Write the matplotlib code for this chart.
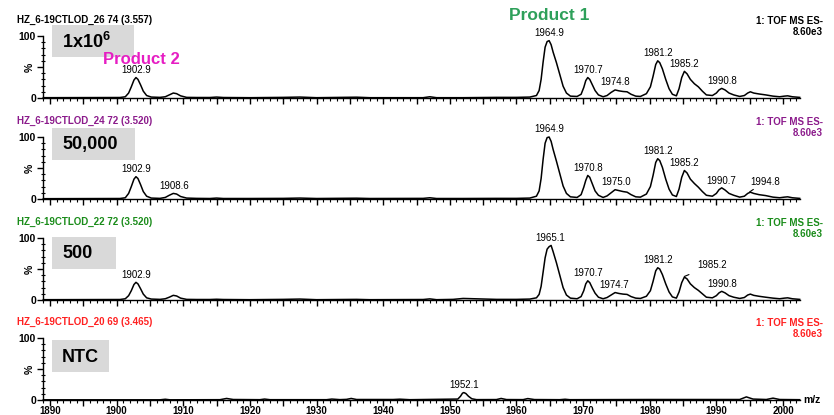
import numpy as np
import matplotlib
matplotlib.use("Agg")
import matplotlib.pyplot as plt
from matplotlib.patches import Rectangle
from matplotlib.ticker import MultipleLocator, FuncFormatter

plt.rcParams['font.family'] = ['Liberation Sans', 'DejaVu Sans']
plt.rcParams['mathtext.fontset'] = 'custom'
plt.rcParams['mathtext.bf'] = 'Liberation Sans:bold'
plt.rcParams['mathtext.rm'] = 'Liberation Sans'

# ---- spectra (m/z, % of 8.60e3) ----
# the three sample runs share one m/z grid
mz_grid = [1889, 1900.5, 1901.3, 1901.8, 1902.2, 1902.6, 1902.9, 1903.2, 1903.6, 1904.0, 1904.5, 1905.2,
           1906.5, 1907.3, 1907.9, 1908.5, 1909.0, 1909.6, 1910.5,
           1912, 1914, 1915, 1916, 1920, 1925, 1927.5, 1930, 1936, 1938, 1946, 1947, 1948, 1950.5,
           1952, 1957, 1960, 1962,
           1963, 1963.4, 1963.7, 1964.0, 1964.3, 1964.6, 1964.9, 1965.2, 1965.5, 1966.0, 1966.5,
           1967.0, 1967.5, 1968.1, 1969.1,
           1969.7, 1970.1, 1970.4, 1970.7, 1971.0, 1971.4, 1971.8, 1972.3, 1973.0, 1973.6, 1974.2,
           1974.8, 1975.4, 1976.0, 1976.6, 1977.2, 1977.9, 1978.6,
           1979.5, 1980.1, 1980.5, 1980.9, 1981.2, 1981.5, 1981.9, 1982.4, 1982.9, 1983.4, 1984.0,
           1984.4, 1984.8, 1985.2, 1985.6, 1986.1, 1986.7, 1987.3, 1987.9, 1988.5, 1989.4,
           1990.0, 1990.4, 1990.8, 1991.3, 1991.9, 1992.6, 1993.5, 1994.2, 1994.7, 1995.1, 1995.6,
           1996.4, 1997.4, 1998.5, 1999.5, 2000.2, 2000.7, 2001.4, 2002.5]

pct_26 = [0.5, 0.8, 2, 8, 18, 29, 33, 30, 21, 11, 4, 1.5, 1, 2, 5, 8, 7, 3.5, 1,
          0.8, 0.8, 1.5, 0.8, 0.5, 1, 1.5, 0.5, 1.3, 0.5, 0.5, 2, 0.5, 0.5, 0.5, 1, 1, 1.5,
          4, 12, 30, 58, 82, 91, 92.5, 86, 74, 57, 38, 19, 8, 3, 2.5,
          6, 17, 28, 33, 30, 21, 12, 5, 2, 4, 9, 13, 11.5, 10.5, 10, 6, 3, 2.5,
          7, 18, 35, 54, 60, 57, 47, 30, 15, 6, 3.5, 15, 33, 43, 39, 30, 23, 18, 11, 5, 4,
          8, 13, 15.5, 13, 8, 5, 2.5, 4, 8, 10, 8, 6.5, 5, 3, 2, 3, 3.5, 2, 1]

pct_24 = [0.5, 0.8, 2, 9, 20, 32, 36, 33, 23, 12, 4.5, 1.5, 1, 2.5, 6, 9, 8, 4, 1.5,
          1, 0.8, 1.5, 0.8, 0.8, 1, 1.5, 0.8, 1.3, 0.8, 1, 2, 0.8, 0.8, 0.8, 1, 1, 1.5,
          4.5, 13, 33, 64, 90, 99, 100, 93, 80, 61, 41, 21, 9, 3.5, 2.5,
          7, 19, 30, 38, 35, 24, 13, 6, 2.5, 5, 10, 15, 13.5, 12, 11, 7, 3.5, 3,
          8, 20, 38, 59, 65, 62, 51, 32, 16, 6.5, 4, 16, 35, 46, 42, 32, 25, 19, 12, 6, 4.5,
          9, 15, 18, 14.5, 9, 6, 3, 4.5, 9, 11, 9, 7, 5.5, 3, 2, 3, 3.5, 2, 1]

pct_22 = [0.5, 0.8, 2, 7, 15, 25, 28.5, 26, 18, 9.5, 3.5, 1.5, 1, 2, 4.5, 7.5, 6.5, 3, 1,
          0.8, 0.8, 1.2, 0.8, 0.5, 1, 1.5, 0.5, 1, 0.5, 0.8, 1.8, 0.5, 1, 2.5, 1, 1, 1.5,
          3.5, 9, 22, 45, 68, 82, 86, 88, 78, 60, 40, 20, 8, 3, 2,
          5.5, 15, 26, 31, 28, 19, 11, 4.5, 2, 4, 8, 12, 10.5, 9.5, 9, 5.5, 3, 2.5,
          6, 15, 30, 47, 52, 50, 41, 26, 13, 5, 3, 13, 28, 37, 34, 26, 20, 15.5, 10, 4.5, 3.5,
          7, 11.5, 14, 11.5, 7, 4.5, 2.5, 4, 8, 9.5, 7.5, 6, 4.5, 3, 2, 3, 3.5, 2, 1]

# no-template control has its own points
mz_20 = [1889, 1906.5, 1907.3, 1908, 1915.5, 1916.5, 1917.5, 1921.5, 1922.2, 1923, 1931.5, 1932.3,
         1933.5, 1934.5, 1935.2, 1936, 1941.5, 1942.5, 1944, 1951.2, 1951.6, 1951.9, 1952.1, 1952.4,
         1952.8, 1953.3, 1954, 1957, 1957.7, 1958.5, 1961, 1961.7, 1962.7, 1966.5, 1967.3, 1968,
         1980, 1985, 1993.5, 1994.5, 1995.5, 1997.5, 1998.5, 1999.5, 2002.5]
pct_20 = [0.3, 0.3, 1.2, 0.3, 0.5, 2.5, 0.8, 0.5, 1.5, 0.5, 0.5, 1.5,
          0.6, 1, 2.5, 0.8, 0.8, 1.3, 0.5, 1.5, 6, 11, 12, 10.5,
          6, 2, 0.6, 0.7, 2.5, 0.7, 0.6, 2.3, 0.7, 0.5, 1.2, 0.5,
          0.8, 0.8, 0.8, 5, 1.5, 0.8, 3, 0.8, 0.5]

labels_26 = [1902.9, 1964.9, 1970.7, 1974.8, 1981.2, 1985.2, 1990.8]
labels_24 = [1902.9, 1908.6, 1964.9, 1970.8, 1975.0, 1981.2, 1985.2, 1990.7]
labels_22 = [1902.9, 1965.1, 1970.7, 1974.7, 1981.2, 1990.8]
labels_20 = [1952.1]

titles = ["HZ_6-19CTLOD_26 74 (3.557)", "HZ_6-19CTLOD_24 72 (3.520)",
          "HZ_6-19CTLOD_22 72 (3.520)", "HZ_6-19CTLOD_20 69 (3.465)"]
title_colors = ["black", "#8b1a8b", "#1a8c1a", "#ff2020"]
box_texts = [r"1x10$^{\mathbf{6}}$", "50,000", "500", "NTC"]

# layout in pixels of the 834x415 picture
W, H = 834, 415
base_px = [98, 199, 300, 400]
box_top_px = [25, 128, 237, 340]
box_w_px = [82, 83, 64, 57]


def fx(x):
    return x / W


def fy(y):
    return 1 - y / H


fig = plt.figure(figsize=(W / 100, H / 100), dpi=100)

spectra = [(mz_grid, pct_26, labels_26), (mz_grid, pct_24, labels_24),
           (mz_grid, pct_22, labels_22), (mz_20, pct_20, labels_20)]

for i, (mz, pct, labs) in enumerate(spectra):
    b = base_px[i]
    ax = fig.add_axes([fx(43), fy(b), fx(757), 62 / H])
    ax.plot(mz, pct, color="black", lw=1.1, clip_on=False)
    ax.set_xlim(1888.95, 2002.55)
    ax.set_ylim(0, 100)
    ax.patch.set_visible(False)
    for s in ["top", "right"]:
        ax.spines[s].set_visible(False)
    for s in ["left", "bottom"]:
        ax.spines[s].set_linewidth(1.0)

    ax.xaxis.set_major_locator(MultipleLocator(5))
    ax.xaxis.set_minor_locator(MultipleLocator(1))
    if i == 3:
        ax.xaxis.set_major_formatter(FuncFormatter(lambda v, p: f"{v:.0f}" if round(v) % 10 == 0 else ""))
    else:
        ax.set_xticklabels([])
    ax.tick_params(axis="x", which="major", length=4, width=1, labelsize=7, pad=0.5)
    ax.tick_params(axis="x", which="minor", length=2.5, width=0.8)

    ax.set_yticks([0, 50, 100])
    ax.set_yticklabels(["0", "", "100"], fontweight="bold")
    ax.yaxis.set_minor_locator(MultipleLocator(10))
    ax.tick_params(axis="y", which="major", length=4, width=1, labelsize=7.5, pad=1)
    ax.tick_params(axis="y", which="minor", length=3, width=0.8, direction="inout")
    for t in ax.get_xticklabels():
        t.set_fontweight("bold")

    # peak labels
    for m in labs:
        h = np.interp(m, mz, pct)
        ax.annotate(f"{m:.1f}", xy=(m, h), xytext=(0, 2), textcoords="offset points",
                    ha="center", va="bottom", fontsize=7, annotation_clip=False)

    # run title and instrument text
    fig.text(fx(17), fy(b - 78), titles[i], color=title_colors[i], fontsize=7,
             fontweight="bold", va="center", ha="left")
    fig.text(fx(823), fy(b - 77), "1: TOF MS ES-", color=title_colors[i], fontsize=7,
             fontweight="bold", va="center", ha="right")
    fig.text(fx(823), fy(b - 66), "8.60e3", color=title_colors[i], fontsize=7,
             fontweight="bold", va="center", ha="right")
    fig.text(fx(30), fy(b - 31), "%", rotation=90, fontsize=7.5, fontweight="bold",
             ha="center", va="center")

    # grey sample box
    top = box_top_px[i]
    fig.patches.append(Rectangle((fx(52), fy(top + 32)), fx(box_w_px[i]), 32 / H,
                                 transform=fig.transFigure, facecolor="#d9d9d9",
                                 edgecolor="none", zorder=0))
    fig.text(fx(62), fy(top + 17), box_texts[i], fontsize=13, fontweight="bold",
             ha="left", va="center")

    if i == 1:
        ax.annotate("1994.8", xy=(1995.0, 11.5), xytext=(1997.3, 28), textcoords="data",
                    ha="center", va="center", fontsize=7,
                    arrowprops=dict(arrowstyle="-", lw=0.8, shrinkA=4, shrinkB=0))
    if i == 2:
        ax.annotate("1985.2", xy=(1985.2, 38), xytext=(1989.3, 56), textcoords="data",
                    ha="center", va="center", fontsize=7,
                    arrowprops=dict(arrowstyle="-", lw=0.8, shrinkA=4, shrinkB=0))

fig.text(fx(803), fy(400), "m/z", fontsize=7.5, fontweight="bold", ha="left", va="center")
fig.text(fx(549), fy(15), "Product 1", color="#2ea05a", fontsize=12.5, fontweight="bold",
         ha="center", va="center")
fig.text(fx(141), fy(59), "Product 2", color="#e61ec3", fontsize=12, fontweight="bold",
         ha="center", va="center")

fig.savefig("out.png", dpi=100)
